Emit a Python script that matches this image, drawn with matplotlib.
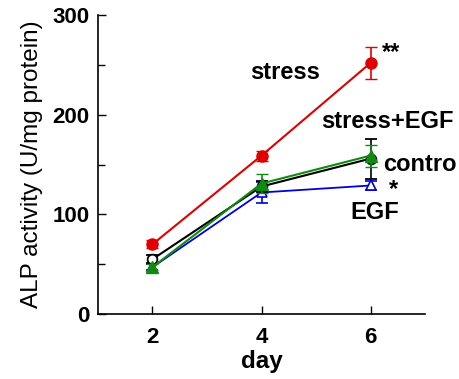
import matplotlib
matplotlib.use('Agg')
import matplotlib.pyplot as plt

plt.rcParams['font.family'] = ['Liberation Sans', 'DejaVu Sans']

days = [2, 4, 6]

stress = [70, 159, 252]
stress_err = [4, 5, 16]
control = [55, 128, 156]
control_err = [4, 6, 20]
stress_egf = [47, 131, 159]
stress_egf_err = [3, 10, 11]
egf = [47, 122, 129]
egf_err = [3, 11, 5]

fig = plt.figure(figsize=(4.6, 3.79), dpi=100)
ax = fig.add_axes([0.213, 0.1715, 0.711, 0.7885])

ax.errorbar(days, control, yerr=control_err, color='black', marker='o', mfc='white',
            mec='black', ms=7, mew=1.3, lw=1.5, capsize=4, elinewidth=1.2, zorder=3)
ax.errorbar(days, egf, yerr=egf_err, color='#0000dd', marker='^', mfc='white',
            mec='#0000dd', ms=7, mew=1.2, lw=1.3, capsize=4, elinewidth=1.2, zorder=2)
ax.errorbar(days, stress_egf, yerr=stress_egf_err, color='#108a10', marker='^', mfc='#108a10',
            mec='#108a10', ms=8, lw=1.5, capsize=4, elinewidth=1.2, zorder=4)
ax.errorbar(days, stress, yerr=stress_err, color='#e00000', marker='o', mfc='#e00000',
            mec='#e00000', ms=8, lw=1.5, capsize=4, elinewidth=1.2, zorder=5)

ax.set_xlim(1, 7)
ax.set_ylim(0, 300)
ax.set_xticks(days)
ax.set_yticks([0, 100, 200, 300])
ax.set_yticks([50, 150, 250], minor=True)
ax.tick_params(direction='in', length=6, width=1, labelsize=16, pad=6)
ax.tick_params(axis='x', pad=9)
ax.tick_params(which='minor', direction='in', length=5, width=1)
for lab in ax.get_xticklabels() + ax.get_yticklabels():
    lab.set_fontweight('bold')
ax.spines['top'].set_visible(False)
ax.spines['right'].set_visible(False)
ax.spines['left'].set_linewidth(1.2)
ax.spines['bottom'].set_linewidth(1.2)

ax.set_xlabel('day', fontsize=17.5, fontweight='bold', labelpad=2)
ax.set_ylabel('ALP activity (U/mg protein)', fontsize=17.5, labelpad=7)

tk = dict(fontsize=17, fontweight='bold', va='center', clip_on=False)
ax.text(4.43, 242, 'stress', ha='center', **tk)
ax.text(6.31, 193, 'stress+EGF', ha='center', **tk)
ax.text(6.23, 150, 'contro', ha='left', **tk)
ax.text(6.07, 102, 'EGF', ha='center', **tk)
ax.text(6.37, 263, '**', ha='center', **tk)
ax.text(6.43, 125, '*', ha='center', **tk)

fig.savefig('out.png', dpi=100)
